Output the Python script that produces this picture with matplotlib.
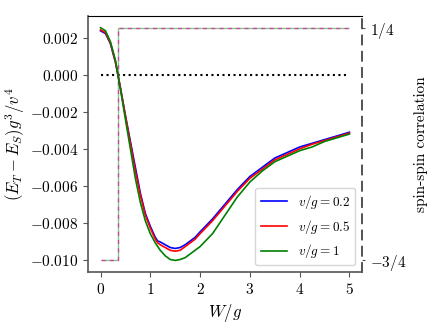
import matplotlib
matplotlib.use('Agg')
from matplotlib import pyplot as plt
from matplotlib.ticker import MultipleLocator

plt.rcParams['font.family'] = 'serif'
plt.rcParams['font.serif'] = ['cmr10']
plt.rcParams['mathtext.fontset'] = 'cm'
plt.rcParams['axes.formatter.use_mathtext'] = True
plt.rcParams['axes.unicode_minus'] = True

# W/g sample points
W = [0, 0.1, 0.2, 0.3, 0.4, 0.5, 0.6, 0.7, 0.8, 0.9, 1.0, 1.1, 1.15, 1.2, 1.3, 1.4,
     1.5, 1.6, 1.7, 1.8, 1.9, 2.0, 2.25, 2.5, 2.75, 3.0, 3.25, 3.5, 3.75, 4.0,
     4.25, 4.5, 4.75, 5.0]

# (E_T - E_S) g^3 / v^4 for each v/g
dE_02 = [0.0024, 0.00225, 0.0017, 0.0007, -0.0007, -0.0022, -0.0036, -0.0050,
         -0.0064, -0.0075, -0.0082, -0.0088, -0.0090, -0.00905, -0.0092, -0.00935,
         -0.0094, -0.00935, -0.0092, -0.0090, -0.0088, -0.0085, -0.0078, -0.0070,
         -0.0062, -0.0055, -0.0050, -0.0045, -0.0042, -0.0039, -0.0037, -0.0035,
         -0.0033, -0.0031]
dE_05 = [0.00245, 0.0023, 0.00172, 0.0007, -0.0007, -0.0022, -0.0037, -0.0052,
         -0.0065, -0.0076, -0.0083, -0.0089, -0.0091, -0.0092, -0.00935, -0.0095,
         -0.00955, -0.0095, -0.0093, -0.0091, -0.0089, -0.0086, -0.0079, -0.0071,
         -0.0063, -0.0056, -0.0051, -0.0046, -0.0043, -0.0040, -0.00375, -0.00355,
         -0.00335, -0.00315]
dE_1 = [0.00257, 0.0024, 0.0018, 0.0008, -0.00076, -0.0024, -0.0040, -0.0056,
        -0.0069, -0.0079, -0.0086, -0.0091, -0.0093, -0.0095, -0.0098, -0.0100,
        -0.01005, -0.0100, -0.0099, -0.0097, -0.0095, -0.0093, -0.0086, -0.0076,
        -0.0066, -0.0058, -0.0052, -0.0047, -0.0044, -0.0041, -0.0039, -0.0036,
        -0.0034, -0.0032]

# spin-spin correlation (step)
W_step = [0, 0.35, 5.0]
corr = [-0.75, 0.25, 0.25]

labels = ['$v/g=0.2$', '$v/g=0.5$', '$v/g=1$']
colors = ['blue', 'red', 'green']

fig = plt.figure(figsize=(4.36, 3.27), dpi=100)
ax = fig.add_axes([0.202, 0.168, 0.628, 0.783])
ax2 = ax.twinx()

dash_styles = [(0, (3, 3)), (0, (3, 3)), (3, (3, 3))]
for c, ls in zip(colors, dash_styles):
    ax2.plot(W_step, corr, drawstyle='steps-post', linestyle=ls, color=c, alpha=0.45, lw=1)

ax.plot([0, 5], [0, 0], ':', color='black', lw=1.5)
for y, c, lab in zip([dE_02, dE_05, dE_1], colors, labels):
    ax.plot(W, y, color=c, lw=1.2, label=lab)

ax.set_zorder(ax2.get_zorder() + 1)
ax.patch.set_visible(False)

ax.yaxis.set_major_locator(MultipleLocator(0.002))
ax.set_xticks([0, 1, 2, 3, 4, 5])
ax.set_xlabel('$W/g$', fontsize=12)
ax.set_ylabel('$(E_T - E_S)g^3/v^4$', fontsize=12, labelpad=2)
ax.tick_params(labelsize=11, color='#555555', length=3.5)

ax2.set_yticks([0.25, -0.75])
ax2.set_yticklabels(['$1/4$', '$-3/4$'])
ax2.tick_params(labelsize=11, length=2, color='#555555')
ax2.set_ylabel('spin-spin correlation', fontsize=11, labelpad=6)

for s in ['left', 'bottom']:
    ax.spines[s].set_color('#555555')
    ax.spines[s].set_linewidth(1.2)
ax.spines['right'].set_visible(False)
ax.spines['top'].set_color('black')
for s in ['left', 'bottom', 'top']:
    ax2.spines[s].set_visible(False)
ax2.spines['right'].set_linestyle((0, (5, 4)))
ax2.spines['right'].set_color('#444444')
ax2.spines['right'].set_linewidth(1.3)

ax.legend(loc='lower right', fontsize=9.5, framealpha=0.8)

fig.savefig('out.png', dpi=100)
